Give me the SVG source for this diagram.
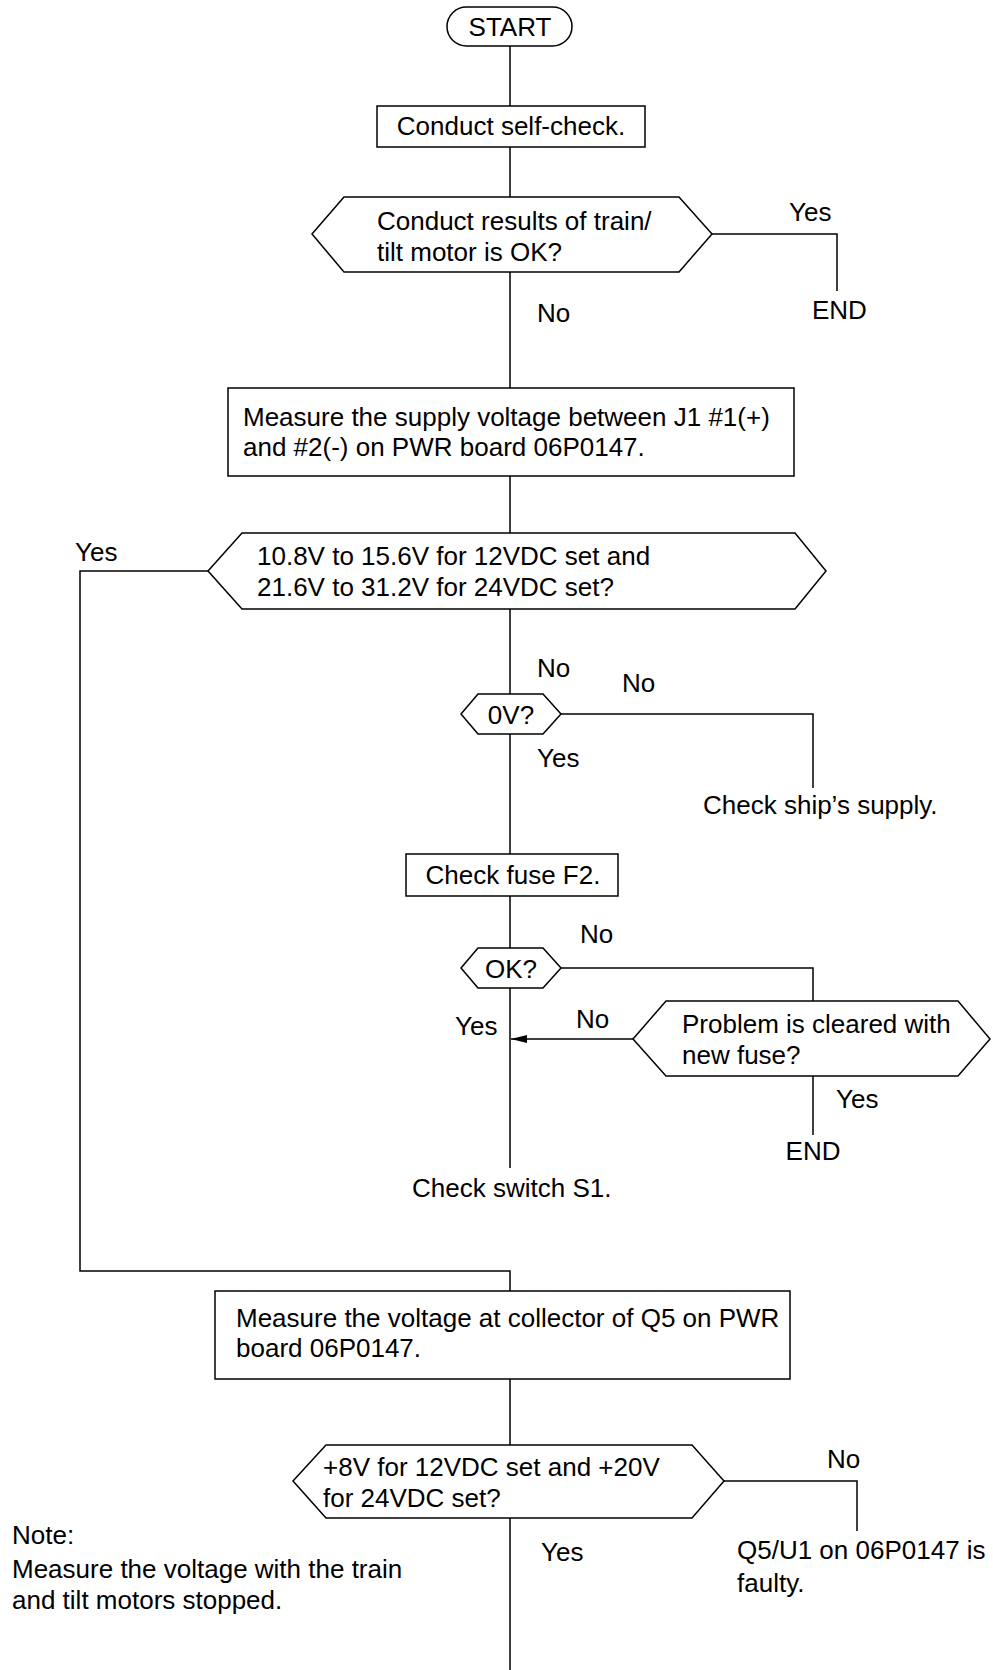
<svg xmlns="http://www.w3.org/2000/svg" width="993" height="1670" viewBox="0 0 993 1670">
<style>
.s{fill:#fff;stroke:#000;stroke-width:1.5}
.c{fill:none;stroke:#000;stroke-width:1.5}
text{font-family:"Liberation Sans",Arial,sans-serif;font-size:26px;fill:#000}
.m{text-anchor:middle}
</style>
<defs>
<marker id="ah" markerUnits="userSpaceOnUse" markerWidth="18" markerHeight="10" refX="16" refY="4.5" orient="auto"><path d="M0,0.5 L16,4.5 L0,8.5 z" fill="#000"/></marker>
</defs>
<rect width="993" height="1670" fill="#fff"/>
<g id="connectors">
<path class="c" d="M510,46 V106 M510,147 V197 M510,272 V388 M510,476 V533 M510,609 V694 M510,734 V854 M510,896 V948 M510,988 V1168"/>
<path class="c" d="M712,234 H837 V291"/>
<path class="c" d="M208,571 H80 V1271 H510 V1291"/>
<path class="c" d="M561,714 H813 V788"/>
<path class="c" d="M561,968 H813 V1001"/>
<path class="c" d="M633,1039 H511" marker-end="url(#ah)"/>
<path class="c" d="M813,1076 V1135"/>
<path class="c" d="M510,1379 V1445 M510,1518 V1670"/>
<path class="c" d="M724,1481 H857 V1531"/>
</g>
<g id="start"><rect class="s" x="447" y="7" width="125" height="39" rx="19.5"/><text class="m" x="510" y="36">START</text></g>
<g id="selfcheck"><rect class="s" x="377" y="106" width="268" height="41"/><text class="m" x="511" y="135">Conduct self-check.</text></g>
<g id="dec1"><polygon class="s" points="312,234 344,197 679,197 712,234 679,272 344,272"/><text x="377" y="230">Conduct results of train/</text><text x="377" y="261">tilt motor is OK?</text></g>
<g id="lbl1"><text x="789" y="221">Yes</text><text x="812" y="319">END</text><text x="537" y="322">No</text></g>
<g id="measure1"><rect class="s" x="228" y="388" width="566" height="88"/><text x="243" y="426">Measure the supply voltage between J1 #1(+)</text><text x="243" y="456">and #2(-) on PWR board 06P0147.</text></g>
<g id="dec2"><polygon class="s" points="208,571 242,533 795,533 826,571 795,609 242,609"/><text x="257" y="565">10.8V to 15.6V for 12VDC set and</text><text x="257" y="596">21.6V to 31.2V for 24VDC set?</text></g>
<g id="lbl2"><text x="75" y="561">Yes</text><text x="537" y="677">No</text></g>
<g id="dec0v"><polygon class="s" points="461,714 478,694 543,694 561,714 543,734 478,734"/><text class="m" x="511" y="724">0V?</text></g>
<g id="lbl3"><text x="622" y="692">No</text><text x="537" y="767">Yes</text><text x="703" y="814">Check ship’s supply.</text></g>
<g id="fuse"><rect class="s" x="406" y="854" width="212" height="42"/><text class="m" x="513" y="884">Check fuse F2.</text></g>
<g id="decok"><polygon class="s" points="461,968 478,948 543,948 561,968 543,988 478,988"/><text class="m" x="511" y="978">OK?</text></g>
<g id="lbl4"><text x="580" y="943">No</text><text x="576" y="1028">No</text><text x="455" y="1035">Yes</text></g>
<g id="decfuse"><polygon class="s" points="633,1039 666,1001 958,1001 990,1039 958,1076 666,1076"/><text x="682" y="1033">Problem is cleared with</text><text x="682" y="1064">new fuse?</text></g>
<g id="lbl5"><text x="836" y="1108">Yes</text><text class="m" x="813" y="1160">END</text><text x="412" y="1197">Check switch S1.</text></g>
<g id="measure2"><rect class="s" x="215" y="1291" width="575" height="88"/><text x="236" y="1327">Measure the voltage at collector of Q5 on PWR</text><text x="236" y="1357">board 06P0147.</text></g>
<g id="dec3"><polygon class="s" points="293,1481 326,1445 692,1445 724,1481 692,1518 326,1518"/><text x="323" y="1476">+8V for 12VDC set and +20V</text><text x="323" y="1507">for 24VDC set?</text></g>
<g id="lbl6"><text x="827" y="1468">No</text><text x="541" y="1561">Yes</text><text x="737" y="1559">Q5/U1 on 06P0147 is</text><text x="737" y="1592">faulty.</text></g>
<g id="note"><text x="12" y="1544">Note:</text><text x="12" y="1578">Measure the voltage with the train</text><text x="12" y="1609">and tilt motors stopped.</text></g>
</svg>
